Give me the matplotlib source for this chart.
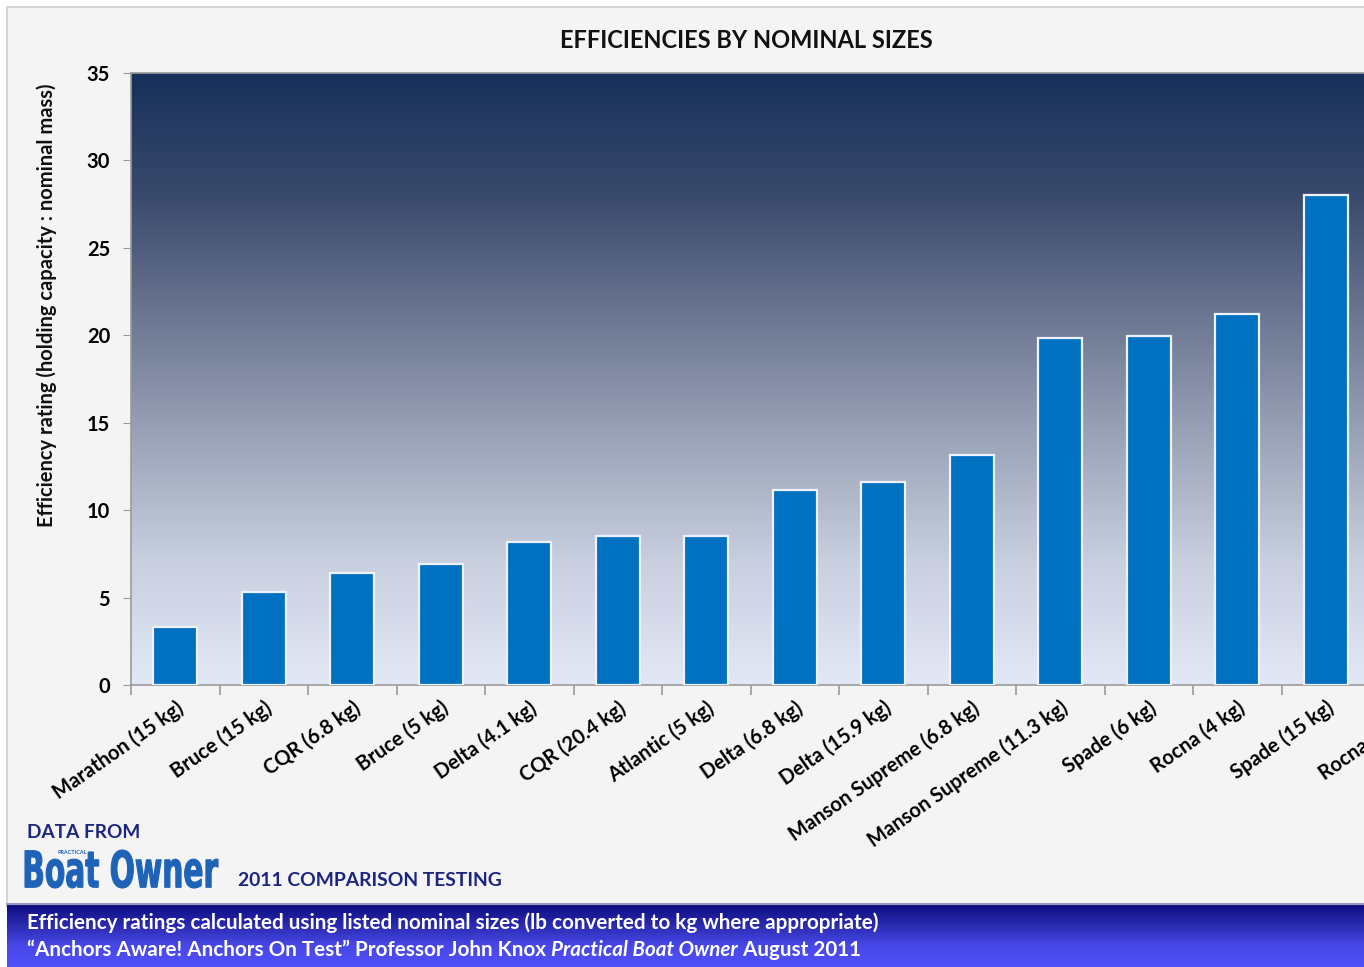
import numpy as np
import matplotlib
matplotlib.use("Agg")
import matplotlib.pyplot as plt
from matplotlib.colors import LinearSegmentedColormap
from matplotlib.patches import Rectangle, PathPatch
from matplotlib.textpath import TextPath
from matplotlib.font_manager import FontProperties
from matplotlib.transforms import Affine2D

# ---------------- data ----------------
categories = ["Marathon (15 kg)", "Bruce (15 kg)", "CQR (6.8 kg)", "Bruce (5 kg)",
              "Delta (4.1 kg)", "CQR (20.4 kg)", "Atlantic (5 kg)", "Delta (6.8 kg)",
              "Delta (15.9 kg)", "Manson Supreme (6.8 kg)", "Manson Supreme (11.3 kg)",
              "Spade (6 kg)", "Rocna (4 kg)", "Spade (15 kg)", "Rocna (10 kg)"]
values = [3.3, 5.3, 6.4, 6.9, 8.2, 8.5, 8.5, 11.15, 11.6, 13.15, 19.85, 19.95, 21.2, 28.0]
yticks = [0, 5, 10, 15, 20, 25, 30, 35]

title = "EFFICIENCIES BY NOMINAL SIZES"
ylabel = "Efficiency rating (holding capacity : nominal mass)"

FONT = ["Lato", "DejaVu Sans"]
plt.rcParams["font.family"] = FONT

W, H = 1364, 967
fig = plt.figure(figsize=(W / 100, H / 100), dpi=100)
fig.patch.set_facecolor("white")

def fx(px):
    return px / W

def fy(py):
    return 1 - py / H

# background panel
bg = fig.add_axes([0, 0, 1, 1], zorder=-10)
bg.set_xlim(0, W)
bg.set_ylim(H, 0)
bg.axis("off")
bg.add_patch(Rectangle((7, 7), W, 900, facecolor="#f4f4f4", edgecolor="#cfcfcf", lw=1.2))

# banner gradient
banner_cmap = LinearSegmentedColormap.from_list("ban", ["#0c0c7e", "#2a2ab0", "#4848e8", "#5050fa"])
grad = np.linspace(0, 1, 256).reshape(-1, 1)
bg.imshow(grad, extent=[7, W, 967, 904], cmap=banner_cmap, aspect="auto", origin="upper", zorder=1)
bg.plot([7, W], [904, 904], color="#9a9ac0", lw=1.5, zorder=2)

# ---------------- main axes ----------------
n_slots = len(categories)
slot = 88.5
ax_left, ax_top, ax_bottom = 131, 73, 685
ax = fig.add_axes([fx(ax_left), fy(ax_bottom), (n_slots * slot) / W, (ax_bottom - ax_top) / H])
ax.set_xlim(-0.5, n_slots - 0.5)
ax.set_ylim(0, 35)

plot_cmap = LinearSegmentedColormap.from_list(
    "plotbg", ["#e2e8f6", "#c8cfdf", "#9ca4b8", "#6c7792", "#3a4a6c", "#16305a"])
gy = np.linspace(0, 1, 256).reshape(-1, 1)
ax.imshow(gy, extent=[0, 1, 0, 1], transform=ax.transAxes, cmap=plot_cmap,
          aspect="auto", origin="lower", zorder=0)

x = np.arange(len(values))
ax.bar(x, values, width=0.5, color="#0070c0", edgecolor="#eef2fa", linewidth=1.6, zorder=3)

ax.spines["right"].set_visible(False)
for s in ["left", "bottom", "top"]:
    ax.spines[s].set_color("#9a9a9a")
    ax.spines[s].set_linewidth(1.2)

ax.set_yticks(yticks)
ax.set_yticklabels([str(v) for v in yticks], fontsize=14.5, fontweight="bold")
ax.tick_params(axis="y", direction="out", length=6, color="#9a9a9a", pad=9)

ax.set_xticks(np.arange(n_slots))
ax.set_xticklabels(categories, rotation=35, ha="right", va="top",
                   rotation_mode="anchor", fontsize=14.5, fontweight="bold")
ax.tick_params(axis="x", length=0, pad=9)
ax.set_xticks(np.arange(n_slots + 1) - 0.5, minor=True)
ax.tick_params(axis="x", which="minor", length=7, color="#9a9a9a", width=1.2, direction="out")

# titles
fig.text(fx(746), fy(40), title, ha="center", va="center", fontsize=17, fontweight="bold",
         color="#111111")
fig.text(fx(47), fy(305), ylabel, ha="center", va="center", rotation=90, fontsize=14.5,
         fontweight="bold", color="#111111")

# source block
fig.text(fx(27), fy(832), "DATA FROM", ha="left", va="center", fontsize=13.7,
         fontweight="bold", color="#1c2580")
prop = FontProperties(family="DejaVu Sans", weight="bold")
tp = TextPath((0, 0), "Boat Owner", size=50, prop=prop)
ext = tp.get_extents()
sx = (218 - 25) / ext.width
sy = (888 - 850) / ext.height
tr = Affine2D().translate(-ext.x0, -ext.y0).scale(sx, -sy).translate(25, 888)
bg.add_patch(PathPatch(tr.transform_path(tp), facecolor="#1e63b8", edgecolor="#1e63b8",
                       lw=0.8, zorder=3))
fig.text(fx(58), fy(853), "PRACTICAL", ha="left", va="center", fontsize=4,
         fontweight="bold", color="#1e63b8")
fig.text(fx(238), fy(881), "2011 COMPARISON TESTING", ha="left", va="center", fontsize=13.9,
         fontweight="bold", color="#1c2580")

# banner text
fig.text(fx(27), fy(923), "Efficiency ratings calculated using listed nominal sizes (lb converted to kg where appropriate)",
         ha="left", va="center", fontsize=14.9, fontweight="bold", color="white")
t1 = fig.text(fx(27), fy(950), "\u201cAnchors Aware! Anchors On Test\u201d Professor John Knox ",
              ha="left", va="center", fontsize=14.9, fontweight="bold", color="white")
a2 = ax.annotate("Practical Boat Owner", xy=(1, 0.5), xycoords=t1, ha="left", va="center",
                 fontsize=14.9, fontweight="bold", fontstyle="italic", color="white",
                 annotation_clip=False)
ax.annotate(" August 2011", xy=(1, 0.5), xycoords=a2, ha="left", va="center",
            fontsize=14.9, fontweight="bold", color="white", annotation_clip=False)

fig.savefig("out.png", dpi=100)
